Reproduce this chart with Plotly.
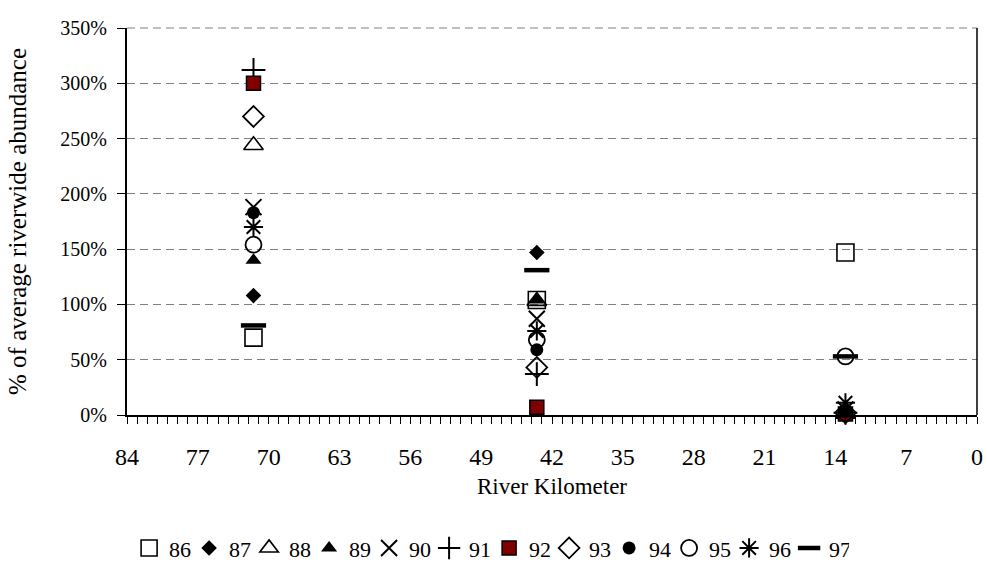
import plotly.graph_objects as go

# River kilometer positions of the three sampling sites
river_km = [71.5, 43.5, 13]

# % of average riverwide abundance by year
years = ["86", "87", "88", "89", "90", "91", "92", "93", "94", "95", "96", "97"]
y86 = [70, 104, 147]
y87 = [108, 147, 4]
y88 = [244, 103, 1]
y89 = [140, 104, 3]
y90 = [188, 87, 5]
y91 = [312, 37, 2]
y92 = [300, 7, 1]
y93 = [270, 43, 2]
y94 = [183, 59, 3]
y95 = [154, 68, 53]
y96 = [170, 76, 11]
y97 = [81, 131, 53]
values = [y86, y87, y88, y89, y90, y91, y92, y93, y94, y95, y96, y97]

y_ticks = [0, 50, 100, 150, 200, 250, 300, 350]
y_tick_labels = [f"{v}%" for v in y_ticks]
x_ticks = [84, 77, 70, 63, 56, 49, 42, 35, 28, 21, 14, 7, 0]

# marker styles (symbol, size, fill, line width)
styles = [
    ("square-open", 17, "black", 1.6),
    ("diamond", 12, "black", 0),
    ("triangle-up-open", 17, "black", 1.6),
    ("triangle-up", 14, "black", 0),
    ("x-thin-open", 16, "black", 2),
    ("cross-thin-open", 17, "black", 2),
    ("square", 14, "#800000", 1.5),
    ("diamond-open", 16, "black", 1.8),
    ("circle", 13, "black", 0),
    ("circle-open", 16, "black", 1.8),
    ("asterisk-open", 16, "black", 2),
    ("line-ew-open", 18, "black", 4.5),
]

fig = go.Figure()
for name, vals, (sym, size, col, lw) in zip(years, values, styles):
    fig.add_trace(go.Scatter(
        x=river_km, y=vals, mode="markers", name=name, cliponaxis=False,
        marker=dict(symbol=sym, size=size, color=col,
                    line=dict(color="black", width=lw)),
    ))

serif = "Liberation Serif"
fig.update_layout(
    width=987, height=569,
    margin=dict(l=127, r=10, t=28, b=154, autoexpand=False),
    paper_bgcolor="white", plot_bgcolor="white",
    font=dict(family=serif, color="black", size=18),
    showlegend=True,
    legend=dict(orientation="h", x=0.426, xanchor="center", y=-0.344, yanchor="middle",
                font=dict(size=22, family=serif, color="black"), itemwidth=30,
                entrywidth=15, tracegroupgap=0),
    xaxis=dict(
        range=[84, 0], tickvals=x_ticks, ticks="outside", ticklen=7, tickwidth=1,
        tickcolor="black", showline=True, linecolor="black", linewidth=2,
        showgrid=False, zeroline=False, automargin=False,
        tickfont=dict(size=24, family=serif, color="black"),
        ticklabelstandoff=12,
        minor=dict(dtick=1, tick0=0, ticks="outside", ticklen=7, tickcolor="black",
                   tickwidth=1, showgrid=False),
        title=dict(text="River Kilometer", font=dict(size=23, family=serif, color="black"),
                   standoff=9),
    ),
    yaxis=dict(
        range=[0, 350], tickvals=y_ticks, ticktext=y_tick_labels, ticks="outside",
        ticklen=8, tickcolor="black", showline=True, linecolor="black", linewidth=2,
        showgrid=True, gridcolor="#808080", griddash="8px,5px", gridwidth=1,
        zeroline=False, automargin=False, ticklabelstandoff=6,
        tickfont=dict(size=20, family=serif, color="black"),
        title=dict(text="% of average riverwide abundance",
                   font=dict(size=25, family=serif, color="black"), standoff=27),
    ),
    shapes=[
        dict(type="line", xref="paper", yref="paper", x0=1, x1=1, y0=0, y1=1,
             line=dict(color="black", width=1.5)),
        dict(type="line", xref="paper", yref="paper", x0=0, x1=1, y0=1, y1=1,
             line=dict(color="#808080", width=1, dash="8px,5px"), layer="below"),
    ],
)

fig.write_html("out.html", config={"displayModeBar": False},
               post_script="document.body.style.margin='0';")
